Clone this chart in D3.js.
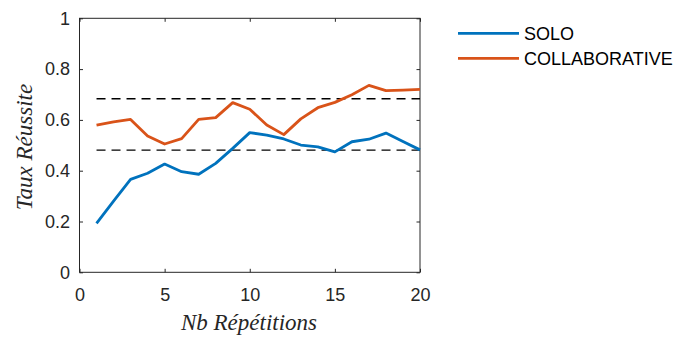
<!DOCTYPE html>
<html><head><meta charset="utf-8">
<script src="https://cdn.jsdelivr.net/npm/d3@7/dist/d3.min.js"></script>
<style>body{margin:0;background:#fff}</style>
</head><body>
<svg id="c" width="675" height="338"></svg>
<script>
const repetitions = d3.range(1, 21);
const solo = [0.193,0.28,0.366,0.39,0.426,0.396,0.386,0.429,0.488,0.55,0.54,0.525,0.501,0.494,0.474,0.514,0.524,0.548,0.515,0.482];
const collaborative = [0.579,0.592,0.602,0.537,0.505,0.526,0.602,0.609,0.668,0.642,0.58,0.542,0.604,0.648,0.669,0.699,0.736,0.715,0.717,0.72];
const thresholds = [0.683, 0.481];
const xTicks = [0,5,10,15,20];
const yTicks = [0,0.2,0.4,0.6,0.8,1];
const seriesNames = ["SOLO","COLLABORATIVE"];
const colors = ["#0072BD","#D95319"];

const svg = d3.select("#c");
const L=79.5, R=420, T=18.3, B=272.3;
const x = d3.scaleLinear().domain([0,20]).range([L,R]);
const y = d3.scaleLinear().domain([0,1]).range([B,T]);
const axc = "#262626";
const tl = 3.5;

svg.append("rect").attr("x",L).attr("y",T).attr("width",R-L).attr("height",B-T)
  .attr("fill","none").attr("stroke",axc).attr("stroke-width",1);

const fontSans = "'Liberation Sans', Arial, sans-serif";
const xb = svg.append("g").attr("transform",`translate(0,${B})`)
  .call(d3.axisBottom(x).tickValues(xTicks).tickSizeInner(-tl).tickSizeOuter(0).tickPadding(15.5).tickFormat(d3.format("d")));
const xt = svg.append("g").attr("transform",`translate(0,${T})`)
  .call(d3.axisTop(x).tickValues(xTicks).tickSizeInner(-tl).tickSizeOuter(0).tickFormat(""));
const yl = svg.append("g").attr("transform",`translate(${L},0)`)
  .call(d3.axisLeft(y).tickValues(yTicks).tickSizeInner(-tl).tickSizeOuter(0).tickPadding(9.5).tickFormat(d=>d===0||d===1?String(d):d.toFixed(1)));
const yr = svg.append("g").attr("transform",`translate(${R},0)`)
  .call(d3.axisRight(y).tickValues(yTicks).tickSizeInner(-tl).tickSizeOuter(0).tickFormat(""));
[xb,xt,yl,yr].forEach(g=>{
  g.select(".domain").remove();
  g.selectAll(".tick line").attr("stroke",axc);
  g.selectAll("text").attr("fill",axc).style("font-family",fontSans).style("font-size","18px");
});

svg.selectAll(".thr").data(thresholds).enter().append("line")
  .attr("x1",x(1)).attr("x2",x(20)).attr("y1",d=>y(d)).attr("y2",d=>y(d))
  .attr("stroke","#000").attr("stroke-width",1.4).attr("stroke-dasharray","9,6");

const line = d3.line().x((d,i)=>x(repetitions[i])).y(d=>y(d));
[solo, collaborative].forEach((s,k)=>{
  svg.append("path").datum(s).attr("d",line).attr("fill","none")
    .attr("stroke",colors[k]).attr("stroke-width",2.8).attr("stroke-linejoin","round");
});

const serif = "'Liberation Serif', 'Times New Roman', serif";
svg.append("text").attr("x",249).attr("y",330).attr("text-anchor","middle")
  .style("font-family",serif).style("font-style","italic")
  .style("font-size","23px").attr("fill",axc).text("Nb Répétitions");
svg.append("text").attr("transform",`translate(32,147) rotate(-90)`).attr("text-anchor","middle")
  .style("font-family",serif).style("font-style","italic")
  .style("font-size","23px").attr("fill",axc).text("Taux Réussite");

const leg = svg.append("g");
seriesNames.forEach((n,k)=>{
  const yy = 33.3 + k*25;
  leg.append("line").attr("x1",458).attr("x2",519).attr("y1",yy).attr("y2",yy)
    .attr("stroke",colors[k]).attr("stroke-width",2.8);
  leg.append("text").attr("x",524).attr("y",yy).attr("dy","0.35em")
    .style("font-family",fontSans).style("font-size","18px").attr("fill","#000").text(n);
});
</script>
</body></html>
